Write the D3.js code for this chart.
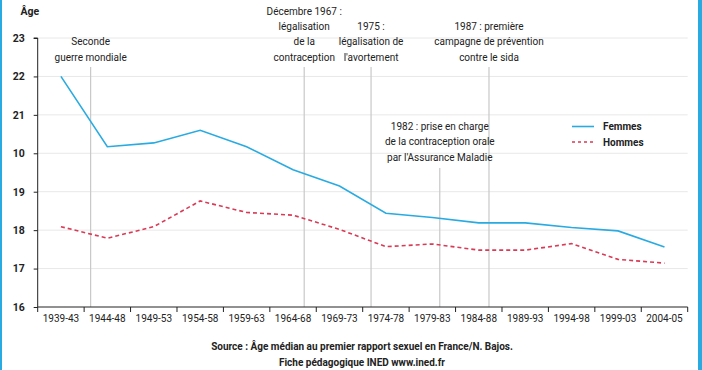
<!DOCTYPE html>
<html><head><meta charset="utf-8">
<script src="https://cdn.jsdelivr.net/npm/d3@7"></script>
<style>
html,body{margin:0;padding:0;background:#fff;}
svg{display:block;font-family:Roboto,"DejaVu Sans",sans-serif;}
</style></head>
<body><svg id="c" width="702" height="370"></svg>
<script>
const categories = ["1939-43","1944-48","1949-53","1954-58","1959-63","1964-68","1969-73","1974-78","1979-83","1984-88","1989-93","1994-98","1999-03","2004-05"];
const femmes = [22.0,20.17,20.27,20.6,20.17,19.57,19.15,18.44,18.33,18.19,18.19,18.07,17.98,17.56];
const hommes = [18.09,17.79,18.09,18.76,18.46,18.39,18.02,17.57,17.64,17.48,17.48,17.65,17.24,17.14];
const yTicks = [16,17,18,19,20,21,22,23];
const yTickLabels = ["16","17","18","19","10","21","22","23"];
const annotYears = [1944.7,1967.7,1974.9,1982.3,1987.6];
const annotTexts = [
  ["Seconde","guerre mondiale"],
  ["Décembre 1967 :","légalisation","de la","contraception"],
  ["1975 :","légalisation de","l'avortement"],
  ["1982 : prise en charge","de la contraception orale","par l'Assurance Maladie"],
  ["1987 : première","campagne de prévention","contre le sida"]
];
const seriesNames = ["Femmes","Hommes"];
const sourceLines = ["Source : Âge médian au premier rapport sexuel en France/N. Bajos.","Fiche pédagogique INED www.ined.fr"];

const svg = d3.select("#c");
const L = 37.7, R = 687.7, T = 38, B = 307;
const x = d3.scaleBand().domain(categories).range([L,R]).padding(0);
const xYear = d3.scaleLinear().domain([1939,2009]).range([L,R]);
const y = d3.scaleLinear().domain([16,23]).range([B,T]);

// side bars
svg.append("rect").attr("x",0).attr("y",0).attr("width",2).attr("height",370).attr("fill","#29abe2");
svg.append("rect").attr("x",698).attr("y",0).attr("width",4).attr("height",370).attr("fill","#29abe2");

// gridlines
svg.append("g").selectAll("line").data(yTicks.slice(1)).join("line")
  .attr("x1",L).attr("x2",R).attr("y1",d=>y(d)).attr("y2",d=>y(d))
  .attr("stroke","#e8e8e8").attr("stroke-width",1);

// annotation lines
const annotTop = [67,67,67,168,67];
svg.append("g").selectAll("line").data(annotYears).join("line")
  .attr("x1",d=>xYear(d)).attr("x2",d=>xYear(d))
  .attr("y1",(d,i)=>annotTop[i]).attr("y2",B)
  .attr("stroke","#c8c8c8").attr("stroke-width",1.2);

// annotation texts
const annotLastBase = [60.5,60.5,60.5,160.5,60.5];
annotTexts.forEach((lines,i)=>{
  const g = svg.append("text").attr("text-anchor","middle").attr("font-size",10).attr("fill","#222");
  lines.forEach((t,j)=>{
    g.append("tspan").attr("x",xYear(annotYears[i]))
      .attr("y",annotLastBase[i]-(lines.length-1-j)*15.2).text(t);
  });
});

// y axis
const yAxis = d3.axisLeft(y).tickValues(yTicks).tickSize(4).tickPadding(9)
  .tickFormat((d,i)=>yTickLabels[i]);
const gy = svg.append("g").attr("transform",`translate(${L},0)`).call(yAxis);
gy.select(".domain").attr("stroke","#222").attr("d",`M-4,${T}H0V${B}`);
gy.selectAll(".tick line").attr("stroke","#222");
gy.selectAll(".tick text").attr("font-size",10.5).attr("font-weight","bold").attr("fill","#222")
  .attr("font-family","Roboto,sans-serif");

// x axis
const gx = svg.append("g").attr("transform",`translate(0,${B})`);
gx.append("line").attr("x1",L).attr("x2",R).attr("y1",0).attr("y2",0).attr("stroke","#222");
const bounds = categories.map(c=>x(c)).concat([R]);
gx.selectAll("line.tk").data(bounds).join("line").attr("class","tk")
  .attr("x1",d=>d).attr("x2",d=>d).attr("y1",0).attr("y2",5).attr("stroke","#222");
gx.selectAll("text").data(categories).join("text")
  .attr("x",d=>x(d)+x.bandwidth()/2).attr("y",14.5)
  .attr("text-anchor","middle").attr("font-size",10).attr("fill","#222").text(d=>d);

// Age label
svg.append("text").attr("x",20.5).attr("y",15).attr("font-size",10.5).attr("font-weight","bold")
  .attr("fill","#222").text("Âge");

// lines
const line = d3.line().x((d,i)=>x(categories[i])+x.bandwidth()/2).y(d=>y(d));
svg.append("path").datum(femmes).attr("d",line).attr("fill","none")
  .attr("stroke","#29abe2").attr("stroke-width",1.6);
svg.append("path").datum(hommes).attr("d",line).attr("fill","none")
  .attr("stroke","#d93a55").attr("stroke-width",1.6).attr("stroke-dasharray","4,3");

// legend
const legY = [126.5,142];
seriesNames.forEach((n,i)=>{
  svg.append("line").attr("x1",572).attr("x2",594).attr("y1",legY[i]).attr("y2",legY[i])
    .attr("stroke",i===0?"#29abe2":"#d93a55").attr("stroke-width",1.6)
    .attr("stroke-dasharray",i===0?null:"3,3");
  svg.append("text").attr("x",603).attr("y",legY[i]+3.5).attr("font-size",10)
    .attr("font-weight","bold").attr("fill","#222").text(n);
});

// source
sourceLines.forEach((t,i)=>{
  svg.append("text").attr("x",362).attr("y",349.5+i*16).attr("text-anchor","middle")
    .attr("font-size",10).attr("font-weight","bold").attr("fill","#222").text(t);
});
</script></body></html>
